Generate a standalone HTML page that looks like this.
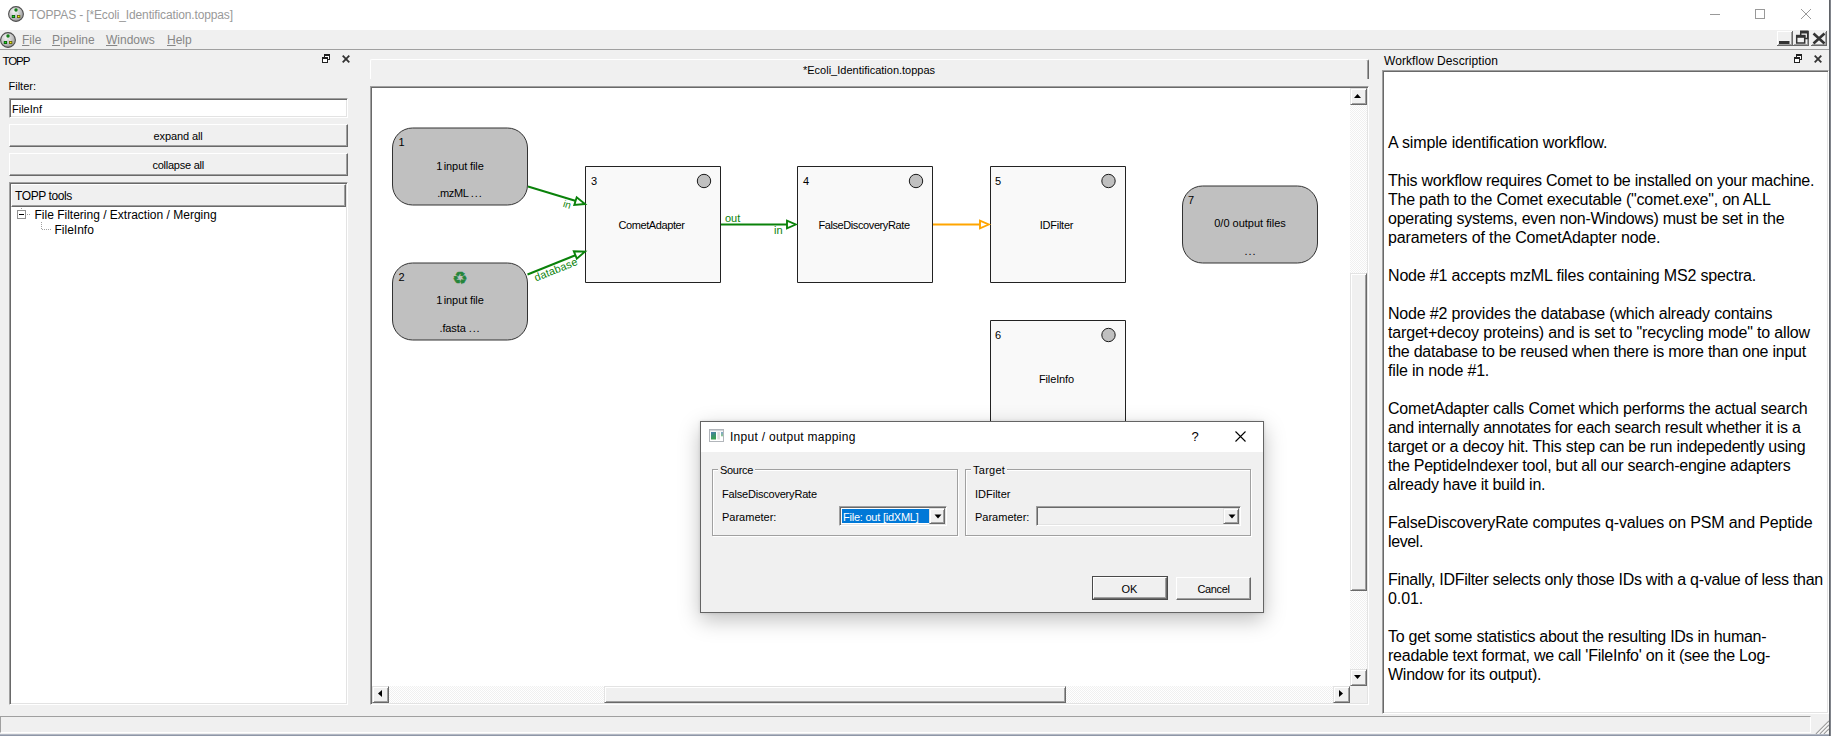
<!DOCTYPE html>
<html lang="en">
<head>
<meta charset="utf-8">
<title>TOPPAS - [*Ecoli_Identification.toppas]</title>
<style>
*{box-sizing:border-box;margin:0;padding:0}
html,body{width:1831px;height:736px;overflow:hidden;background:#f0f0f0}
body{position:relative;font-family:"Liberation Sans",sans-serif;font-size:11px;color:#000}
.abs{position:absolute}
.t{position:absolute;white-space:nowrap;line-height:1}
.ui{font-size:11px}
.seg{font-size:12px}
#titlebar{left:0;top:0;width:1831px;height:30px;background:#fff}
#menubar{left:0;top:30px;width:1831px;height:20px;background:#f0f0f0;border-bottom:1px solid #a0a0a0}
.menu{color:#868686;font-size:12px}
.menu u{text-decoration:underline}
.btn{position:absolute;background:#f0f0f0;border:1px solid;border-color:#fff #696969 #696969 #fff;box-shadow:inset -1px -1px 0 #a0a0a0;text-align:center}
.sunken{border:1px solid;border-color:#a0a0a0 #fff #fff #a0a0a0;box-shadow:inset 1px 1px 0 #696969,inset -1px -1px 0 #e3e3e3}

.track{background-color:#f0f0f0;background-image:linear-gradient(45deg,#fff 25%,transparent 25%,transparent 75%,#fff 75%),linear-gradient(45deg,#fff 25%,transparent 25%,transparent 75%,#fff 75%);background-size:2px 2px;background-position:0 0,1px 1px}
#desc{left:1388px;top:133px;width:440px;font-size:16px;line-height:19px;white-space:nowrap;color:#000}

#dlg{left:700px;top:421px;width:564px;height:192px;background:#f0f0f0;border:1px solid #646464;box-shadow:0 7px 20px 0 rgba(0,0,0,0.25),0 0 3px rgba(0,0,0,0.12)}
#dlgtitle{left:0;top:0;width:562px;height:30px;background:#fff}
.grp{position:absolute;border:1px solid #a0a0a0;box-shadow:1px 1px 0 #fff,inset 1px 1px 0 #fff}
.grplabel{position:absolute;background:#f0f0f0;padding:0 2px;white-space:nowrap;line-height:1;font-size:11px}
.combo{position:absolute;border:1px solid;border-color:#a0a0a0 #fff #fff #a0a0a0;box-shadow:inset 1px 1px 0 #696969,inset -1px -1px 0 #e3e3e3}
.sb{border-color:#e3e3e3 #696969 #696969 #e3e3e3;box-shadow:inset 1px 1px 0 #fff,inset -1px -1px 0 #a0a0a0}
</style>
</head>
<body>

<!-- ===== main window title bar ===== -->
<div id="titlebar" class="abs"></div>
<svg class="abs" style="left:8px;top:6px" width="16" height="16" viewBox="0 0 16 16">
  <defs><radialGradient id="ig" cx="0.38" cy="0.32" r="0.75"><stop offset="0" stop-color="#f2f2f2"/><stop offset="0.55" stop-color="#c4c4c4"/><stop offset="1" stop-color="#8c8c8c"/></radialGradient></defs>
  <circle cx="8" cy="8" r="7.4" fill="url(#ig)" stroke="#4e4e4e" stroke-width="1.1"/>
  <path d="M8 5.2 L5.4 9 M8 5.2 L10.6 9" stroke="#e6e6e6" stroke-width="0.9" fill="none"/>
  <circle cx="8" cy="4" r="1.7" fill="#15801a"/>
  <rect x="3.8" y="9" width="3.3" height="3" fill="#0c5c10"/><rect x="4.7" y="9.9" width="1.5" height="1.2" fill="#1cf01c"/>
  <rect x="9" y="9" width="3.3" height="3" fill="#66640c"/><rect x="9.9" y="9.9" width="1.5" height="1.2" fill="#fbf414"/>
</svg>
<div class="t" style="left:29.3px;top:9px;font-size:12px;letter-spacing:-0.14px;color:#999">TOPPAS - [*Ecoli_Identification.toppas]</div>
<!-- window controls -->
<svg class="abs" style="left:1700px;top:0" width="131" height="30" viewBox="0 0 131 30">
  <path d="M10 14.5 H20" stroke="#999" stroke-width="1" fill="none"/>
  <rect x="55.5" y="9.5" width="9" height="9" stroke="#999" stroke-width="1" fill="none"/>
  <path d="M101 9 L111 19 M111 9 L101 19" stroke="#999" stroke-width="1" fill="none"/>
</svg>

<!-- ===== menu bar ===== -->
<div id="menubar" class="abs"></div>
<svg class="abs" style="left:0;top:32px" width="16" height="16" viewBox="0 0 16 16">
  <circle cx="8" cy="8" r="7.4" fill="url(#ig)" stroke="#4e4e4e" stroke-width="1.1"/>
  <path d="M8 5.2 L5.4 9 M8 5.2 L10.6 9" stroke="#e6e6e6" stroke-width="0.9" fill="none"/>
  <circle cx="8" cy="4" r="1.7" fill="#15801a"/>
  <rect x="3.8" y="9" width="3.3" height="3" fill="#0c5c10"/><rect x="4.7" y="9.9" width="1.5" height="1.2" fill="#1cf01c"/>
  <rect x="9" y="9" width="3.3" height="3" fill="#66640c"/><rect x="9.9" y="9.9" width="1.5" height="1.2" fill="#fbf414"/>
</svg>
<div class="t menu" style="left:22px;top:34px"><u>F</u>ile</div>
<div class="t menu" style="left:52px;top:34px"><u>P</u>ipeline</div>
<div class="t menu" style="left:106px;top:34px"><u>W</u>indows</div>
<div class="t menu" style="left:167px;top:34px"><u>H</u>elp</div>

<!-- ===== left dock: TOPP ===== -->
<div class="t" style="left:2.5px;top:54.5px;font-size:11.6px;letter-spacing:-1.15px">TOPP</div>
<div class="t ui" style="left:8.5px;top:81px">Filter:</div>
<div class="abs sunken" style="left:9px;top:98px;width:339px;height:20px;background:#fff"></div>
<div class="t ui" style="left:12px;top:104px">FileInf</div>
<div class="btn" style="left:9px;top:124px;width:339px;height:23px"></div>
<div class="t ui" style="left:153.5px;top:130.5px;letter-spacing:-0.1px">expand all</div>
<div class="btn" style="left:9px;top:153px;width:339px;height:23px"></div>
<div class="t ui" style="left:152.5px;top:160px;letter-spacing:-0.25px">collapse all</div>
<div class="abs sunken" style="left:9px;top:182px;width:339px;height:523px;background:#fff"></div>
<div class="btn" style="left:11px;top:184px;width:335px;height:23px"></div>
<div class="t seg" style="left:15px;top:190px;letter-spacing:-0.4px">TOPP tools</div>
<div class="t seg" style="left:34.5px;top:209px">File Filtering / Extraction / Merging</div>
<div class="t seg" style="left:54.5px;top:224px">FileInfo</div>

<!-- ===== center ===== -->
<div class="abs" id="tabbar" style="left:370px;top:59px;width:999px;height:20px;border:1px solid;border-color:#fff #696969 transparent #fff;border-bottom:0;box-shadow:inset -1px 0 0 #a0a0a0;border-radius:2px 2px 0 0"></div>
<div class="t ui" style="left:803px;top:65px">*Ecoli_Identification.toppas</div>
<div class="abs sunken" id="canvas" style="left:370px;top:86px;width:999px;height:619px;background:#fff"></div>


<!-- ===== canvas content ===== -->
<svg class="abs" style="left:0;top:0" width="1831" height="736" viewBox="0 0 1831 736" font-family="'Liberation Sans',sans-serif" font-size="11">
  <!-- input / output nodes -->
  <g fill="#c0c0c0" stroke="#333" stroke-width="1">
    <rect x="392.5" y="128" width="135" height="77" rx="20" ry="20"/>
    <rect x="392.5" y="263" width="135" height="77" rx="20" ry="20"/>
    <rect x="1182.5" y="186" width="135" height="77" rx="20" ry="20"/>
  </g>
  <!-- tool nodes -->
  <g fill="#f9f9f9" stroke="#222" stroke-width="1" stroke-linejoin="round">
    <rect x="585.5" y="166.5" width="135" height="116"/>
    <rect x="797.5" y="166.5" width="135" height="116"/>
    <rect x="990.5" y="166.5" width="135" height="116"/>
    <rect x="990.5" y="320.5" width="135" height="116"/>
  </g>
  <g fill="#c0c0c0" stroke="#1a1a1a" stroke-width="1">
    <circle cx="704" cy="181" r="6.7"/>
    <circle cx="916" cy="181" r="6.7"/>
    <circle cx="1108.5" cy="181" r="6.7"/>
    <circle cx="1108.5" cy="335" r="6.7"/>
  </g>
  <!-- edges -->
  <g stroke="#0a820a" stroke-width="2" fill="none">
    <path d="M528 186.5 L576 201"/>
    <path d="M527.5 274.5 L576 255"/>
    <path d="M721 224.5 H787"/>
  </g>
  <path d="M933 224.5 H980" stroke="#ffa500" stroke-width="2" fill="none"/>
  <g stroke="#0a820a" stroke-width="1.9" fill="#fff" stroke-linejoin="miter">
    <path d="M585 204 L574.3 205 L576.7 197.3 Z"/>
    <path d="M585 251.6 L576.8 258.6 L573.8 251.2 Z"/>
    <path d="M795.8 224.5 L787 228.3 L787 220.7 Z"/>
  </g>
  <path d="M988.8 224.5 L980 228.3 L980 220.7 Z" stroke="#ffa500" stroke-width="1.9" fill="#fff"/>
  <!-- edge labels -->
  <g fill="#0a820a">
    <text x="725" y="222">out</text>
    <text x="774" y="234">in</text>
    <text transform="translate(562.5 206.5) rotate(17)" font-size="10">in</text>
    <text transform="translate(536 281.5) rotate(-21.8)" font-size="10.8" letter-spacing="0.15">database</text>
  </g>
  <!-- node text -->
  <g fill="#000">
    <text x="398.5" y="146">1</text>
    <text x="398.5" y="281">2</text>
    <text x="591" y="185">3</text>
    <text x="803" y="185">4</text>
    <text x="995" y="185">5</text>
    <text x="995" y="339">6</text>
    <text x="1188" y="204">7</text>
    <text x="460" y="170" text-anchor="middle" letter-spacing="-0.1">1<tspan dx="-1.5"> </tspan>input file</text>
    <text x="460" y="197" text-anchor="middle" letter-spacing="-0.35">.mzML <tspan letter-spacing="0.9">...</tspan></text>
    <text x="460" y="304" text-anchor="middle" letter-spacing="-0.1">1<tspan dx="-1.5"> </tspan>input file</text>
    <text x="460" y="332" text-anchor="middle" letter-spacing="-0.1">.fasta <tspan letter-spacing="0.9">...</tspan></text>
    <text x="651.5" y="229" text-anchor="middle" letter-spacing="-0.41">CometAdapter</text>
    <text x="864" y="229" text-anchor="middle" letter-spacing="-0.4">FalseDiscoveryRate</text>
    <text x="1056.5" y="229" text-anchor="middle" letter-spacing="-0.25">IDFilter</text>
    <text x="1056.5" y="383" text-anchor="middle" letter-spacing="-0.13">FileInfo</text>
    <text x="1250" y="227" text-anchor="middle">0/0 output files</text>
    <text x="1250.5" y="255" text-anchor="middle" letter-spacing="0.9">...</text>
  </g>
  <text x="460.3" y="283.6" text-anchor="middle" font-size="17.2" fill="#25853a" stroke="#25853a" stroke-width="0.4" font-family="'DejaVu Sans',sans-serif">♻</text>
</svg>


<!-- ===== canvas scrollbars ===== -->
<div class="abs track" style="left:1350px;top:88px;width:17px;height:598px"></div>
<div class="abs track" style="left:372px;top:686px;width:978px;height:17px"></div>
<div class="abs" style="left:1350px;top:686px;width:17px;height:17px;background:#f0f0f0"></div>
<div class="btn sb" style="left:1350px;top:88px;width:17px;height:17px"></div>
<div class="btn sb" style="left:1350px;top:669px;width:17px;height:17px"></div>
<div class="btn sb" style="left:1350px;top:273px;width:17px;height:318px"></div>
<div class="btn sb" style="left:372px;top:686px;width:17px;height:17px"></div>
<div class="btn sb" style="left:1333px;top:686px;width:17px;height:17px"></div>
<div class="btn sb" style="left:604px;top:686px;width:462px;height:17px"></div>
<svg class="abs" style="left:0;top:0;pointer-events:none" width="1831" height="736" viewBox="0 0 1831 736">
  <path d="M1354 98 h7 l-3.5 -4 z" fill="#000"/>
  <path d="M1354 675 h7 l-3.5 4 z" fill="#000"/>
  <path d="M382 690 v7 l-4 -3.5 z" fill="#000"/>
  <path d="M1339 690 v7 l4 -3.5 z" fill="#000"/>
</svg>

<!-- ===== right dock ===== -->
<div class="t" style="left:1384px;top:54.5px;font-size:12px;letter-spacing:0.07px">Workflow Description</div>
<div class="abs sunken" style="left:1382px;top:70px;width:447px;height:644px;background:#fff"></div>


<div class="abs" id="desc">
<span style="letter-spacing:-0.143px">A simple identification workflow.</span><br>
<br>
<span style="letter-spacing:-0.244px">This workflow requires Comet to be installed on your machine.</span><br>
<span style="letter-spacing:-0.228px">The path to the Comet executable ("comet.exe", on ALL</span><br>
<span style="letter-spacing:-0.265px">operating systems, even non-Windows) must be set in the</span><br>
<span style="letter-spacing:-0.147px">parameters of the CometAdapter node.</span><br>
<br>
<span style="letter-spacing:-0.168px">Node #1 accepts mzML files containing MS2 spectra.</span><br>
<br>
<span style="letter-spacing:-0.184px">Node #2 provides the database (which already contains</span><br>
<span style="letter-spacing:-0.170px">target+decoy proteins) and is set to "recycling mode" to allow</span><br>
<span style="letter-spacing:-0.244px">the database to be reused when there is more than one input</span><br>
<span style="letter-spacing:-0.186px">file in node #1.</span><br>
<br>
<span style="letter-spacing:-0.193px">CometAdapter calls Comet which performs the actual search</span><br>
<span style="letter-spacing:-0.299px">and internally annotates for each search result whether it is a</span><br>
<span style="letter-spacing:-0.250px">target or a decoy hit. This step can be run indepedently using</span><br>
<span style="letter-spacing:-0.234px">the PeptideIndexer tool, but all our search-engine adapters</span><br>
<span style="letter-spacing:-0.258px">already have it build in.</span><br>
<br>
<span style="letter-spacing:-0.158px">FalseDiscoveryRate computes q-values on PSM and Peptide</span><br>
<span style="letter-spacing:-0.377px">level.</span><br>
<br>
<span style="letter-spacing:-0.296px">Finally, IDFilter selects only those IDs with a q-value of less than</span><br>
<span style="letter-spacing:-0.099px">0.01.</span><br>
<br>
<span style="letter-spacing:-0.264px">To get some statistics about the resulting IDs in human-</span><br>
<span style="letter-spacing:-0.239px">readable text format, we call 'FileInfo' on it (see the Log-</span><br>
<span style="letter-spacing:-0.260px">Window for its output).</span><br>
</div>


<!-- ===== dock / mdi buttons & tree decorations ===== -->
<svg class="abs" style="left:0;top:0;pointer-events:none" width="1831" height="736" viewBox="0 0 1831 736">
  <defs>
    <g id="floatico">
      <rect x="2.5" y="1" width="5" height="4.5" fill="#fff" stroke="#222" stroke-width="1"/>
      <rect x="2" y="0" width="6" height="2" fill="#222"/>
      <rect x="0.5" y="4" width="5" height="4.5" fill="#fff" stroke="#222" stroke-width="1"/>
      <rect x="0" y="3" width="6" height="2" fill="#222"/>
    </g>
    <g id="closeico"><path d="M0.7 0.7 L7.3 7.3 M7.3 0.7 L0.7 7.3" stroke="#333" stroke-width="1.8" fill="none"/></g>
  </defs>
  <use href="#floatico" x="322" y="54"/>
  <use href="#closeico" x="342" y="55"/>
  <use href="#floatico" x="1794" y="54"/>
  <use href="#closeico" x="1814" y="55"/>
  <!-- tree -->
  <rect x="17.5" y="210.5" width="8" height="8" fill="#fff" stroke="#919191"/>
  <path d="M19 214.5 h5" stroke="#000" stroke-width="1"/>
  <g fill="#a0a0a0">
    <rect x="21" y="208" width="1" height="1"/>
    <rect x="27" y="214" width="1" height="1"/><rect x="29" y="214" width="1" height="1"/>
    <rect x="41" y="222" width="1" height="1"/><rect x="41" y="224" width="1" height="1"/><rect x="41" y="226" width="1" height="1"/><rect x="41" y="228" width="1" height="1"/>
    <rect x="42" y="229" width="1" height="1"/><rect x="44" y="229" width="1" height="1"/><rect x="46" y="229" width="1" height="1"/><rect x="48" y="229" width="1" height="1"/><rect x="50" y="229" width="1" height="1"/>
  </g>
  <!-- MDI controls -->
  <g>
    <path d="M1777.5 31 V45.5 M1777 31.5 H1792" stroke="#fff" stroke-width="1" fill="none"/>
    <path d="M1792.5 31 V46 M1777 45.5 H1793" stroke="#696969" stroke-width="1" fill="none"/>
    <path d="M1791.5 32 V45 M1778 44.5 H1792" stroke="#a0a0a0" stroke-width="1" fill="none"/>
    <rect x="1779" y="41" width="10.5" height="3" fill="#333"/>

    <path d="M1808.5 31 V46 M1793 45.5 H1809" stroke="#696969" stroke-width="1" fill="none"/>
    <path d="M1807.5 32 V45 M1794 44.5 H1808" stroke="#a0a0a0" stroke-width="1" fill="none"/>
    <rect x="1800" y="30.5" width="8.5" height="3" fill="#333"/>
    <path d="M1807.7 33 V38.5 H1805" stroke="#333" stroke-width="1.5" fill="none"/>
    <path d="M1800.7 33 V35" stroke="#333" stroke-width="1.5" fill="none"/>
    <rect x="1796.7" y="36" width="8" height="7" fill="#f0f0f0" stroke="#333" stroke-width="1.5"/>
    <rect x="1796" y="34.8" width="9.5" height="3" fill="#333"/>

    <path d="M1826.5 31 V46 M1811 45.5 H1827" stroke="#696969" stroke-width="1" fill="none"/>
    <path d="M1825.5 32 V45 M1812 44.5 H1826" stroke="#a0a0a0" stroke-width="1" fill="none"/>
    <path d="M1813.5 33.5 L1824.5 43.5 M1824.5 33.5 L1813.5 43.5" stroke="#333" stroke-width="2.6" fill="none"/>
  </g>
</svg>

<!-- ===== status bar ===== -->
<div class="abs" style="left:0;top:716px;width:1811px;height:17px;border:1px solid;border-color:#a0a0a0 #fff #fff #a0a0a0"></div>
<svg class="abs" style="left:1815px;top:720px" width="14" height="14" viewBox="0 0 14 14">
  <path d="M1 14 L14 1 M5 14 L14 5 M9 14 L14 9" stroke="#a0a0a0" stroke-width="1.4" fill="none"/>
  <path d="M2.4 14 L14 2.4 M6.4 14 L14 6.4 M10.4 14 L14 10.4" stroke="#fff" stroke-width="1" fill="none"/>
</svg>
<!-- window borders -->
<div class="abs" style="left:1829px;top:0;width:2px;height:736px;background:linear-gradient(90deg,#5f6267 0,#5f6267 50%,#80848b 50%,#80848b 100%)"></div>
<div class="abs" style="left:0;top:734px;width:1829px;height:2px;background:linear-gradient(180deg,#b2b8c4 0,#b2b8c4 50%,#8f97a7 50%,#8f97a7 100%)"></div>

<!-- ===== dialog ===== -->
<div class="abs" id="dlg">
  <div class="abs" id="dlgtitle"></div>
  <svg class="abs" style="left:8px;top:7px" width="15" height="13" viewBox="0 0 15 13">
    <defs><linearGradient id="dg" x1="0" y1="0" x2="0.3" y2="1"><stop offset="0" stop-color="#4c7cb4"/><stop offset="0.5" stop-color="#3c9078"/><stop offset="1" stop-color="#3aa050"/></linearGradient>
    <linearGradient id="dg2" x1="0" y1="0" x2="0" y2="1"><stop offset="0" stop-color="#7fa4cc"/><stop offset="1" stop-color="#8cc88c"/></linearGradient></defs>
    <rect x="0.5" y="0.5" width="14" height="12" fill="#fff" stroke="#b2b6bb"/>
    <rect x="1" y="1" width="13" height="1.2" fill="#cfd3d8"/>
    <rect x="2" y="3" width="5" height="7.5" fill="url(#dg)"/>
    <rect x="8.3" y="3" width="2.6" height="7.5" fill="#dedede"/>
    <rect x="12" y="3" width="2" height="4.3" fill="url(#dg2)"/>
  </svg>
  <div class="t" style="left:29px;top:9px;font-size:12px;letter-spacing:0.28px">Input / output mapping</div>
  <div class="t" style="left:490.5px;top:8px;font-size:13px">?</div>
  <svg class="abs" style="left:534px;top:9px" width="11" height="11" viewBox="0 0 11 11"><path d="M0.5 0.5 L10.5 10.5 M10.5 0.5 L0.5 10.5" stroke="#000" stroke-width="1.1" fill="none"/></svg>

  <!-- Source group -->
  <div class="grp" style="left:11px;top:47px;width:246px;height:67px"></div>
  <div class="grplabel" style="left:17px;top:42.5px;letter-spacing:-0.3px">Source</div>
  <div class="t ui" style="left:21px;top:67px;letter-spacing:-0.2px">FalseDiscoveryRate</div>
  <div class="t ui" style="left:21px;top:89.5px">Parameter:</div>
  <div class="combo" style="left:138px;top:84px;width:108px;height:20px;background:#fff"></div>
  <div class="abs" style="left:141px;top:87px;width:87px;height:14px;background:#0078d7"></div>
  <div class="t ui" style="left:142px;top:89.5px;color:#fff;letter-spacing:-0.23px">File: out [idXML]</div>
  <div class="btn sb" style="left:228px;top:86px;width:16px;height:16px"></div>
  <svg class="abs" style="left:232.5px;top:92px" width="8" height="5" viewBox="0 0 8 5"><path d="M0.5 0.5 h7 l-3.5 4 z" fill="#000"/></svg>

  <!-- Target group -->
  <div class="grp" style="left:264px;top:47px;width:286px;height:67px"></div>
  <div class="grplabel" style="left:270px;top:42.5px;letter-spacing:0.27px">Target</div>
  <div class="t ui" style="left:274px;top:67px">IDFilter</div>
  <div class="t ui" style="left:274px;top:89.5px">Parameter:</div>
  <div class="combo" style="left:335px;top:84px;width:205px;height:20px;background:#f0f0f0"></div>
  <div class="btn sb" style="left:522px;top:86px;width:16px;height:16px"></div>
  <svg class="abs" style="left:526.5px;top:92px" width="8" height="5" viewBox="0 0 8 5"><path d="M0.5 0.5 h7 l-3.5 4 z" fill="#000"/></svg>

  <!-- buttons -->
  <div class="abs" style="left:391px;top:154px;width:76px;height:24px;border:1px solid #4a4a4a"></div>
  <div class="btn" style="left:392px;top:155px;width:74px;height:22px"></div>
  <div class="t ui" style="left:391px;top:162px;width:75px;text-align:center">OK</div>
  <div class="btn" style="left:475px;top:155px;width:75px;height:23px"></div>
  <div class="t ui" style="left:475px;top:162px;width:75px;text-align:center;letter-spacing:-0.35px">Cancel</div>
</div>


</body>
</html>
